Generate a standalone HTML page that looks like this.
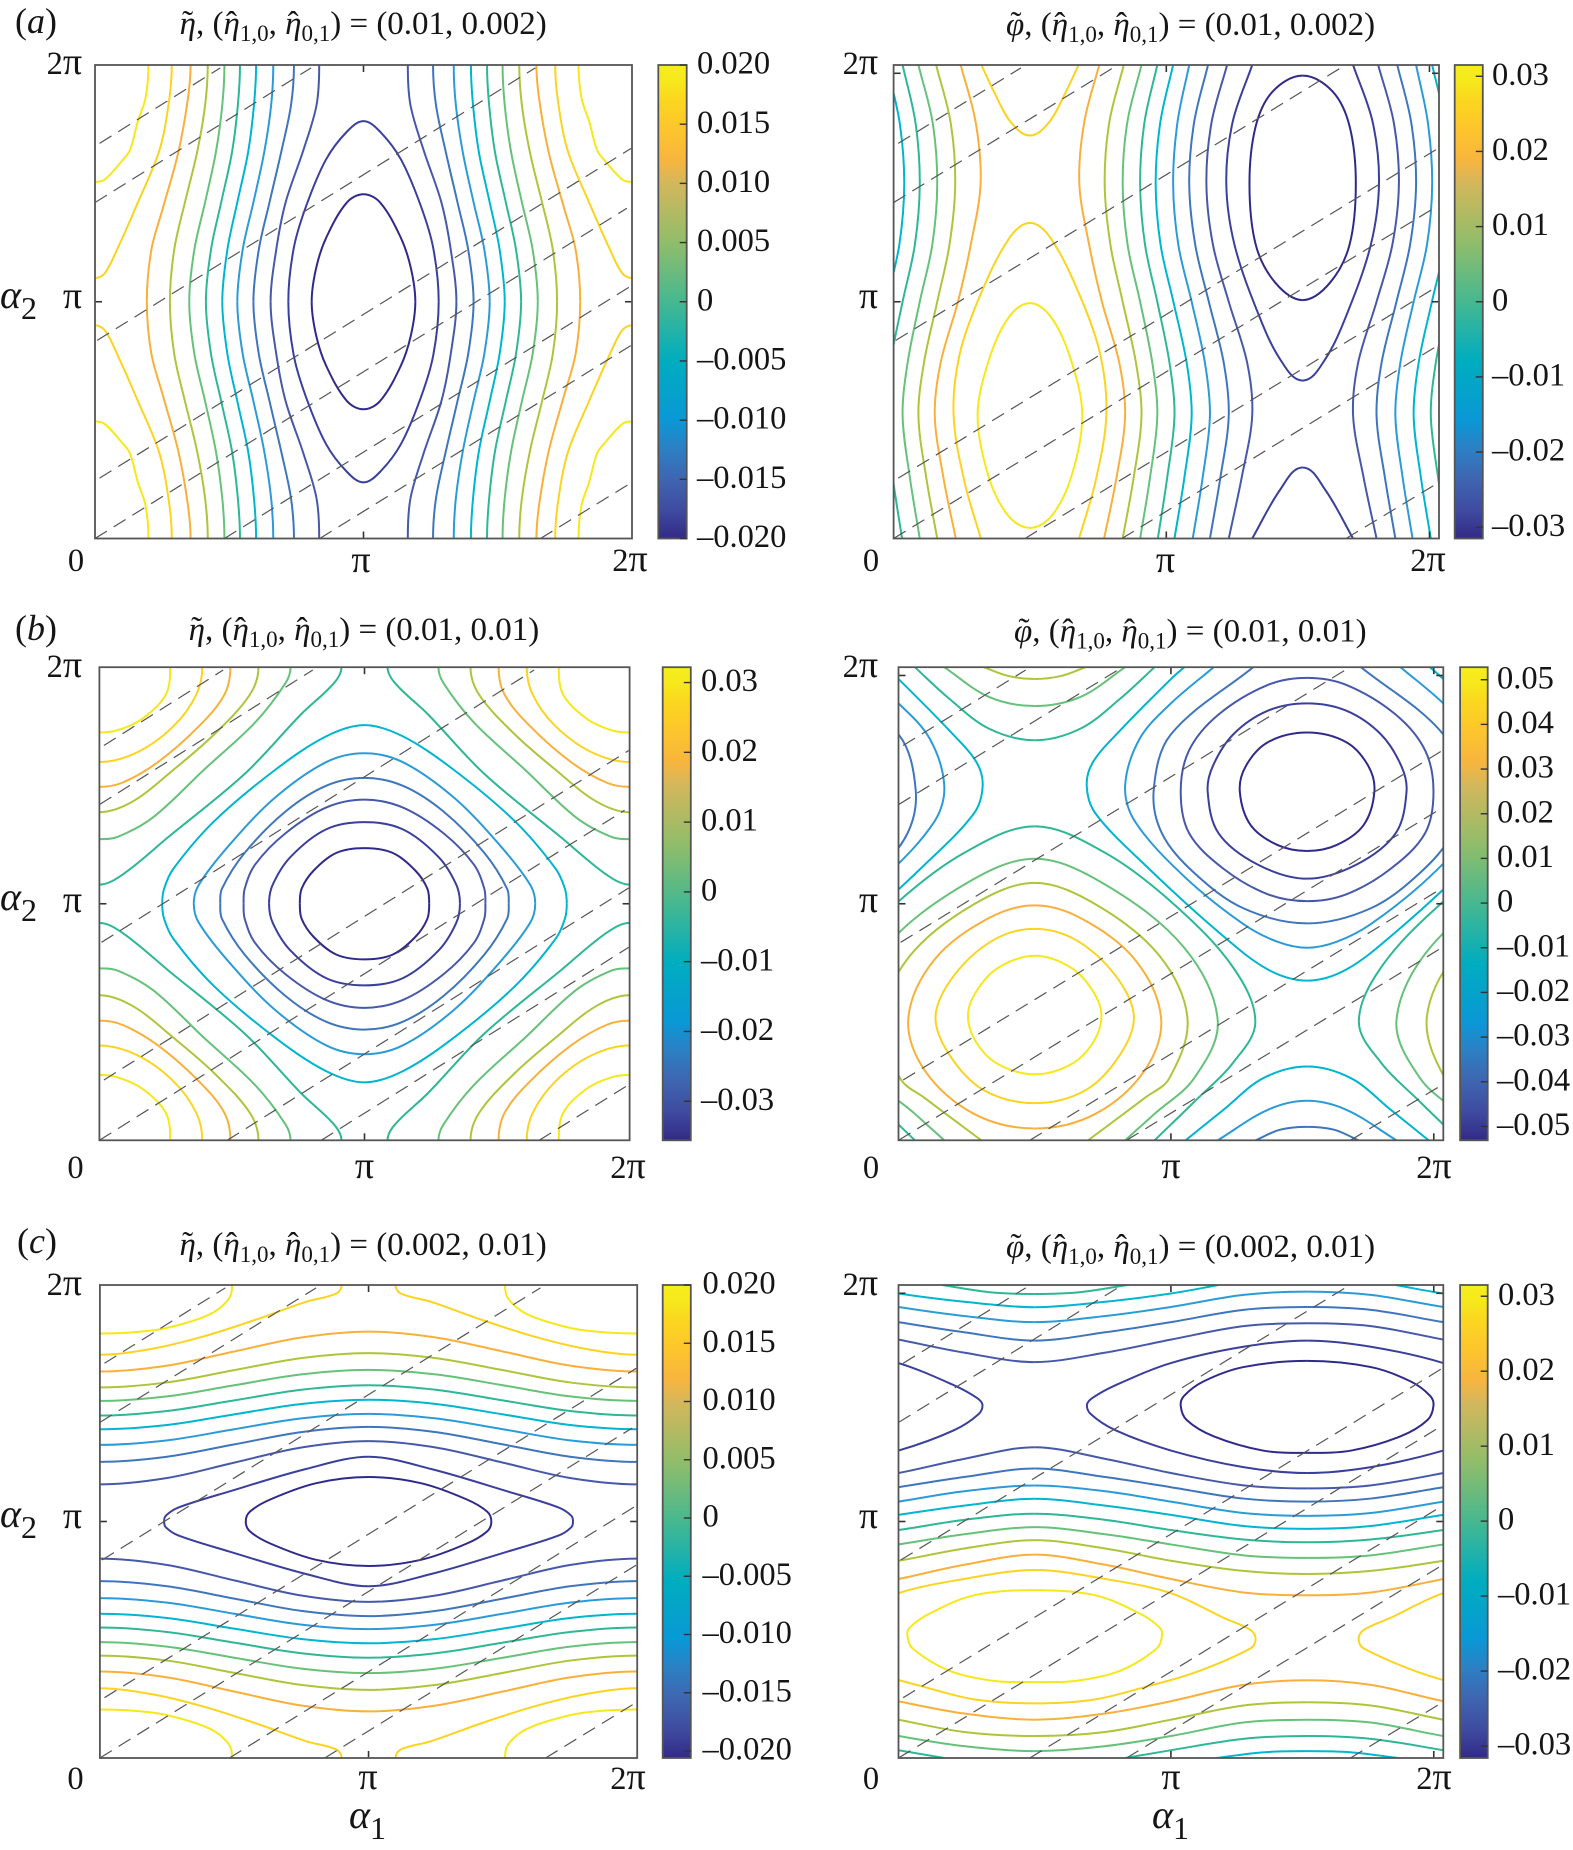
<!DOCTYPE html>
<html lang="en">
<head>
<meta charset="utf-8">
<title>Contour panels</title>
<style>
html,body{margin:0;padding:0;background:#fff}
svg{display:block}
text{font-family:"Liberation Serif","DejaVu Serif",serif;fill:#151515}
.tk{font-size:32.5px}
.pi{font-size:38px}
.mid{text-anchor:middle}
.end{text-anchor:end}
.ttl{font-size:33px}
.sub{font-size:23px}
.it{font-style:italic}
.let{font-size:36px}
.ax{font-size:40px;font-style:italic}
.axs{font-size:32px}
</style>
</head>
<body>
<svg id="fig" width="1573" height="1850" viewBox="0 0 1573 1850" xmlns="http://www.w3.org/2000/svg">
<defs>
<linearGradient id="parula" x1="0" y1="0" x2="0" y2="1"></linearGradient>
</defs>
<g id="panels"></g>

<text class="let" x="15" y="33">(<tspan class="it">a</tspan>)</text>
<text class="let" x="15" y="640">(<tspan class="it">b</tspan>)</text>
<text class="let" x="17" y="1253">(<tspan class="it">c</tspan>)</text>

<text class="ttl" x="179.6" y="34"><tspan class="it">η</tspan><tspan dx="-13.8" dy="-1">˜</tspan><tspan dx="2.8" dy="1">, (</tspan><tspan class="it">η</tspan><tspan dx="-13.8">ˆ</tspan><tspan class="sub" dx="2.8" dy="7">1,0</tspan><tspan dy="-7">, </tspan><tspan class="it">η</tspan><tspan dx="-13.8">ˆ</tspan><tspan class="sub" dx="2.8" dy="7">0,1</tspan><tspan dy="-7">) = (0.01, 0.002)</tspan></text>
<text class="ttl" x="1006" y="35"><tspan class="it">φ</tspan><tspan dx="-13.8" dy="-1">˜</tspan><tspan dx="2.8" dy="1">, (</tspan><tspan class="it">η</tspan><tspan dx="-13.8">ˆ</tspan><tspan class="sub" dx="2.8" dy="7">1,0</tspan><tspan dy="-7">, </tspan><tspan class="it">η</tspan><tspan dx="-13.8">ˆ</tspan><tspan class="sub" dx="2.8" dy="7">0,1</tspan><tspan dy="-7">) = (0.01, 0.002)</tspan></text>
<text class="ttl" x="188.6" y="640"><tspan class="it">η</tspan><tspan dx="-13.8" dy="-1">˜</tspan><tspan dx="2.8" dy="1">, (</tspan><tspan class="it">η</tspan><tspan dx="-13.8">ˆ</tspan><tspan class="sub" dx="2.8" dy="7">1,0</tspan><tspan dy="-7">, </tspan><tspan class="it">η</tspan><tspan dx="-13.8">ˆ</tspan><tspan class="sub" dx="2.8" dy="7">0,1</tspan><tspan dy="-7">) = (0.01, 0.01)</tspan></text>
<text class="ttl" x="1014" y="641.5"><tspan class="it">φ</tspan><tspan dx="-13.8" dy="-1">˜</tspan><tspan dx="2.8" dy="1">, (</tspan><tspan class="it">η</tspan><tspan dx="-13.8">ˆ</tspan><tspan class="sub" dx="2.8" dy="7">1,0</tspan><tspan dy="-7">, </tspan><tspan class="it">η</tspan><tspan dx="-13.8">ˆ</tspan><tspan class="sub" dx="2.8" dy="7">0,1</tspan><tspan dy="-7">) = (0.01, 0.01)</tspan></text>
<text class="ttl" x="179.5" y="1255"><tspan class="it">η</tspan><tspan dx="-13.8" dy="-1">˜</tspan><tspan dx="2.8" dy="1">, (</tspan><tspan class="it">η</tspan><tspan dx="-13.8">ˆ</tspan><tspan class="sub" dx="2.8" dy="7">1,0</tspan><tspan dy="-7">, </tspan><tspan class="it">η</tspan><tspan dx="-13.8">ˆ</tspan><tspan class="sub" dx="2.8" dy="7">0,1</tspan><tspan dy="-7">) = (0.002, 0.01)</tspan></text>
<text class="ttl" x="1006" y="1257"><tspan class="it">φ</tspan><tspan dx="-13.8" dy="-1">˜</tspan><tspan dx="2.8" dy="1">, (</tspan><tspan class="it">η</tspan><tspan dx="-13.8">ˆ</tspan><tspan class="sub" dx="2.8" dy="7">1,0</tspan><tspan dy="-7">, </tspan><tspan class="it">η</tspan><tspan dx="-13.8">ˆ</tspan><tspan class="sub" dx="2.8" dy="7">0,1</tspan><tspan dy="-7">) = (0.002, 0.01)</tspan></text>

<g>
<text class="tk end" x="82" y="74">2<tspan class="pi">π</tspan></text><text class="tk end pi" x="82" y="308">π</text>
<text class="tk mid" x="76" y="571">0</text><text class="tk mid pi" x="361" y="572">π</text><text class="tk mid" x="630" y="571">2<tspan class="pi">π</tspan></text>
</g>
<g>
<text class="tk end" x="878" y="74">2<tspan class="pi">π</tspan></text><text class="tk end pi" x="878" y="308">π</text>
<text class="tk mid" x="871" y="571">0</text><text class="tk mid pi" x="1165.5" y="572">π</text><text class="tk mid" x="1428" y="571">2<tspan class="pi">π</tspan></text>
</g>
<g>
<text class="tk end" x="82" y="677">2<tspan class="pi">π</tspan></text><text class="tk end pi" x="82" y="912">π</text>
<text class="tk mid" x="75.5" y="1178">0</text><text class="tk mid pi" x="364.5" y="1178">π</text><text class="tk mid" x="628" y="1178">2<tspan class="pi">π</tspan></text>
</g>
<g>
<text class="tk end" x="878" y="677">2<tspan class="pi">π</tspan></text><text class="tk end pi" x="878" y="912">π</text>
<text class="tk mid" x="871" y="1178">0</text><text class="tk mid pi" x="1171" y="1178">π</text><text class="tk mid" x="1434" y="1178">2<tspan class="pi">π</tspan></text>
</g>
<g>
<text class="tk end" x="82" y="1295">2<tspan class="pi">π</tspan></text><text class="tk end pi" x="82" y="1528">π</text>
<text class="tk mid" x="75.5" y="1789">0</text><text class="tk mid pi" x="368" y="1789">π</text><text class="tk mid" x="628" y="1789">2<tspan class="pi">π</tspan></text>
</g>
<g>
<text class="tk end" x="878" y="1295">2<tspan class="pi">π</tspan></text><text class="tk end pi" x="878" y="1528">π</text>
<text class="tk mid" x="871" y="1789">0</text><text class="tk mid pi" x="1171" y="1789">π</text><text class="tk mid" x="1434" y="1789">2<tspan class="pi">π</tspan></text>
</g>

<text x="0" y="308"><tspan class="ax">α</tspan><tspan class="axs" dy="11">2</tspan></text>
<text x="0" y="910"><tspan class="ax">α</tspan><tspan class="axs" dy="11">2</tspan></text>
<text x="0" y="1527"><tspan class="ax">α</tspan><tspan class="axs" dy="11">2</tspan></text>
<text x="349" y="1828"><tspan class="ax">α</tspan><tspan class="axs" dy="11">1</tspan></text>
<text x="1152" y="1828"><tspan class="ax">α</tspan><tspan class="axs" dy="11">1</tspan></text>
</svg>

<script>
// Contour levels and curve arcs. Coordinates are (alpha1/pi*100, alpha2/pi*100) pairs.
const aEtaLevels = [0.0175,0.0143,0.0111,0.008,0.0048,0.0016,-0.0016,-0.0048,-0.008,-0.0111,-0.0143,-0.0175];
const aEtaCurves = [
 [[19.9,200,18.8,186,15.9,176,13,164,10.2,159.7,3.6,151.6,0,150.6]],
 [[28.6,200,27.6,185,24,164,16,142,8.4,122.5,3.6,112,0,110]],
 [[35.6,200,34.5,185,31,163,25.4,140,21,122,19.3,100]],
 [[42,200,41,183,38,163,33.5,142,29.5,122,27.9,100]],
 [[48.2,200,47.4,183,45,163,41,142,37,122,35.1,100]],
 [[54,200,53.2,183,51,163,47,142,43.2,122,41.3,100]],
 [[60,200,59.2,183,57,163,53,142,49.3,122,47.4,100]],
 [[66.4,200,65.6,183,63,163,59,142,55,122,53,100]],
 [[74.1,200,73,183,69.5,164,65,142,61,122,59,100]],
 [[83.5,200,82.5,183,77.6,164,71,142,67.5,122,65.4,100]],
 [[100,176.3,93.8,171.8,86,160,78.6,140.3,74,122.5,72,100]],
 [[100,145.4,93.8,141.9,86.2,127.3,82.4,114.4,80.7,100]]
];

const aPhiLevels = [0.0285,0.0233,0.0181,0.013,0.0078,0.0026,-0.0026,-0.0078,-0.013,-0.0181,-0.0233,-0.0285];
const aPhiCurves = [
 [[50,99.4,57.8,93.4,65,75.6,69.2,51.9,65,25.5,57.8,9.4,50,4.5]],
 [[50,133.3,57.8,126.5,68.7,101.5,75.9,77.2,78,51.9,74,23.9,68,0],[50,170.2,57,175.8,63.2,188.7,67.8,200]],
 [[75.4,200,69.9,175.8,68.1,150,71.7,124.1,76.4,100,82.8,74,84.9,51.9,81.7,25.5,77.2,0]],
 [[84.4,200,79.1,175.8,77.4,150,79.5,124.1,84,100,88.9,74,90.9,51.9,88,25.5,84,0]],
 [[90.9,200,85.7,175.8,84,150,85.8,124.1,90.4,100,94.9,74,96.7,51.9,94,25.5,90.4,0]],
 [[96.7,200,92,175.8,90.4,150,92.2,124.1,96.7,100,101.2,74,103,51.9,100.3,25.5,96.9,0]],
 [[102.5,200,97.8,175.8,96.1,150,97.9,124.1,102.6,100,107.5,74,109.3,51.9,106.6,25.5,103,0]],
 [[108.4,200,104.1,175.8,102.5,150,104.4,124.1,109.3,100,114.2,74,116,51.9,113.3,25.5,109.7,0]],
 [[115.3,200,110.2,175.8,108.4,150,110.6,124.1,115.6,100,121.1,74,122.9,51.9,119.8,25.5,116,0]],
 [[122.3,200,116.6,175.8,114.7,150,117.1,124.1,122.9,100,129.7,74,131.5,51.9,127.6,25.5,122.9,0]],
 [[131.5,200,124.3,175.8,122,150,125,124.1,133.7,95,141.8,75.6,150,66.7],[150,30,141.8,20.7,131.5,0]],
 [[150,195.5,139,188.8,132.8,174.2,130.5,150,132.8,124.1,140,108,150,100.7]]
];

const bEtaLevels = [0.0285,0.0228,0.0171,0.0114,0.0057,0,-0.0057,-0.0114,-0.0171,-0.0228,-0.0285,-0.0342];
const bEtaCurves = [
 [[26.7,200,25,188.3,16.3,178.3,6.7,173.3,0,172.4]],
 [[38.8,200,36.5,188.3,27.9,175,14.4,164.1,0,159.9]],
 [[49.4,200,47.1,188.3,37.5,175,22.1,159.9,8.7,151.2,0,149.4]],
 [[60,200,56.7,188.3,43.3,171.6,27.9,156.6,12.5,143.2,0,138.7]],
 [[72.1,200,70.2,193.3,58.7,176.6,39.4,156.6,20.2,136.5,6.7,128.2,0,127.3]],
 [[91.3,200,88.5,193.3,76,180,54.8,154.9,26,128.2,8.7,112.3,0,108.1]],
 [[100,175.5,85.6,170.8,66.3,156.6,43.3,134.9,27.9,114.8,24.4,106.3,23.7,100]],
 [[100,163.6,85.6,159.9,66.3,144.9,49,124.8,37.5,108,35.6,100]],
 [[100,153.2,85.6,149.9,70.2,139,54.8,121.5,46.2,106.3,45.6,100]],
 [[100,144,85.6,140.7,70.2,129.8,58.7,116.5,54.8,106.3,54.4,100]],
 [[100,134.5,85.6,131.5,72.1,119.8,65.4,108.1,64,100]],
 [[100,123.5,89.4,121.5,80.8,114,76.3,106.4,75.6,100]]
];

const bPhiLevels = [0.0475,0.0389,0.0302,0.0216,0.013,0.0043,-0.0043,-0.013,-0.0216,-0.0302,-0.0389,-0.0475];
const bPhiCurves = [
 [[50,78,63.3,73,71.4,63,74.5,52.6,71.4,41.3,63.3,32.1,50,27.9]],
 [[50,89.4,65.1,84.7,79.6,69.7,86.4,52.6,81.4,36.3,68.7,21.2,50,15.7]],
 [[50,99.3,66.9,93.9,86.8,76.4,96.4,51.6,90.4,29.6,72.3,11.2,50,5]],
 [[50,108.8,72.3,99.8,95.8,78,106.1,51.3,99.4,26.2,90.4,17.9,69.6,0],[50,195,59.7,196.3,68.7,200]],
 [[50,119,75.9,108.1,104.9,81.4,117.2,50.5,108.5,26.2,94,11.2,83.2,0],[50,183.6,66.9,187.5,83.2,200]],
 [[50,132.7,75.9,121.5,101.2,99.7,122.9,73,131,50,122.9,32.9,108.5,16.2,94,0],[50,169.1,66.9,174.1,81.4,186.7,94,200]],
 [[104.9,200,100,195,81.4,173.3,71.4,159.9,69.1,149.9,72.3,138.2,90.4,116.5,117.5,88,135.6,72.2,150,67.5],[150,31.2,133.8,26.2,119.3,12.9,105.4,0]],
 [[115.7,200,100,184.7,88.6,169.9,83.2,149.9,86.8,134.8,104.9,111.5,126.6,91.4,139.2,83.9,150,81.4],[150,16.7,135.6,12.9,117.2,0]],
 [[130.2,200,100,171.6,93.7,148.2,96.7,129.8,108.5,113.1,126.6,98.1,150,91.7],[150,5.7,140.1,4.5,131.1,0]],
 [[150,195.5,135.6,192.5,117.5,180,106.7,164.9,103.6,147.4,106.7,129.8,119.3,114.8,135.6,104,150,101.1]],
 [[150,184.7,135.6,181.6,122.9,171.6,115.4,158.2,113.5,147.4,117.5,129.8,132,116.5,150,110.6]],
 [[150,172.4,135.6,168.3,127.5,158.2,125.3,147.4,129.3,133.2,139.2,124.8,150,122.3]]
];

const cEtaLevels = [0.0175,0.0143,0.0111,0.008,0.0048,0.0016,-0.0016,-0.0048,-0.008,-0.0111,-0.0143,-0.0175];
const cEtaCurves = [
 [[0,179.5,19.7,180.8,33,184.3,42.5,188.6,48.2,194.6,49.2,200]],
 [[0,170.5,19.7,173.1,38.7,178.3,57.7,185.2,76.7,192.9,88,196.4,90,200]],
 [[0,163.4,25,165.9,50,171.9,75,177.8,100,180.3]],
 [[0,156.7,25,158.8,50,164,75,169.1,100,171.2]],
 [[0,151,25,152.9,50,157.6,75,162.2,100,164.1]],
 [[0,144.8,25,146.7,50,151.2,75,155.7,100,157.6]],
 [[0,139,25,140.8,50,145.3,75,149.7,100,151.5]],
 [[0,132.4,25,134.3,50,139,75,143.6,100,145.5]],
 [[0,125.2,25,127.4,50,132.6,75,137.8,100,140]],
 [[0,115.7,25,118.4,50,124.9,75,131.3,100,134]],
 [[100,127.4,76.7,122.2,48.2,112.7,29.2,105.9,24.5,102.4,23.9,100]],
 [[100,118.8,80.5,116.2,63.4,109.3,55.8,104.1,54.3,100]]
];

const cPhiLevels = [0.0285,0.0233,0.0181,0.013,0.0078,0.0026,-0.0026,-0.0078,-0.013,-0.0181,-0.0233,-0.0285];
const cPhiCurves = [
 [[50,71,72.3,68.8,88.7,61,96,55,96.7,51.5,94.9,46.4,81.4,36.9,65.1,32.6,50,32.1]],
 [[50,79.5,75.9,75.7,100,69.7,119.3,59.3,129.3,54.1,131.1,50.3,129.3,46.4,108.5,36,90.4,30,72.3,24.8,50,23.1]],
 [[50,86,75.9,81.7,100,75.7,126.6,70,150,68.8],[50,16.2,75.9,18.8,100,24,126.6,30.9,150,32.9]],
 [[50,92.1,75.9,88.6,100,83.4,126.6,79.1,150,77.8],[50,9.3,75.9,11,100,16.2,126.6,22.2,150,23.6]],
 [[50,97.6,75.9,94.6,100,90.3,126.6,85.7,150,84.6],[50,2.9,75.9,5,100,9.3,126.6,15,150,16.2]],
 [[50,103.3,75.9,100.7,100,96.4,126.6,92.4,150,91.2],[83.2,0,100,3.3,126.6,8.1,150,9.3],[50,196.2,66.9,197,84,200]],
 [[50,109.6,75.9,106.7,100,102.8,126.6,98.1,150,96.9],[116.6,0,133.7,2.4,150,2.9],[50,190.6,75.9,192.9,100,196.4,117.5,200]],
 [[50,115.2,75.9,112.8,100,108.4,126.6,103.6,150,102.4],[50,184.3,76,186.9,100,190.7,126.6,195.8,150,197.2]],
 [[50,122.4,75.9,118.8,100,114.5,126.6,109.7,150,108.4],[50,176.5,75.9,180,100,184.3,126.6,189.5,150,190.7]],
 [[50,131.4,75.9,126.5,100,120.5,126.6,115.3,150,114],[50,167.4,75.9,171.4,100,176.9,126.6,182.6,150,183.8]],
 [[150,176.5,126.6,173.9,100,167,79.6,157.6,71.4,152.4,69.2,149.5,70.5,145.5,79.6,138.6,100,130,126.6,123,150,120.5]],
 [[150,167.9,126.6,165.3,112.1,159.3,104.9,153.2,103.6,149,105.8,142.9,115.7,136,133.8,130,150,129]]
];

// Dashed straight lines shared by all panels (same alpha units).
const dashStartU = [1.7,0,0.8,1.7,0,48.2,83.7,165.9];
const dashStartV = [166.9,141.9,83.7,25.5,0,0,0,0];
const dashEndU = [46.7,80.5,164,199.7,198.1,199.7,199.7,199.1];
const dashEndV = [198.8,198.8,198.8,164.8,139.5,106.7,81.6,23.1];

// Colorbar ticks and printed labels.
const aEtaBarTicks = [0.02,0.015,0.01,0.005,0,-0.005,-0.01,-0.015,-0.02];
const aEtaBarLabels = ["0.020","0.015","0.010","0.005","0","–0.005","–0.010","–0.015","–0.020"];
const aPhiBarTicks = [0.03,0.02,0.01,0,-0.01,-0.02,-0.03];
const aPhiBarLabels = ["0.03","0.02","0.01","0","–0.01","–0.02","–0.03"];
const bEtaBarTicks = [0.03,0.02,0.01,0,-0.01,-0.02,-0.03];
const bEtaBarLabels = ["0.03","0.02","0.01","0","–0.01","–0.02","–0.03"];
const bPhiBarTicks = [0.05,0.04,0.03,0.02,0.01,0,-0.01,-0.02,-0.03,-0.04,-0.05];
const bPhiBarLabels = ["0.05","0.04","0.03","0.02","0.01","0","–0.01","–0.02","–0.03","–0.04","–0.05"];
const cEtaBarTicks = [0.02,0.015,0.01,0.005,0,-0.005,-0.01,-0.015,-0.02];
const cEtaBarLabels = ["0.020","0.015","0.010","0.005","0","–0.005","–0.010","–0.015","–0.020"];
const cPhiBarTicks = [0.03,0.02,0.01,0,-0.01,-0.02,-0.03];
const cPhiBarLabels = ["0.03","0.02","0.01","0","–0.01","–0.02","–0.03"];

const SVGNS = "http://www.w3.org/2000/svg";
const lineColors = ["#f6e81a","#fbd420","#f9b03a","#aec43a","#66c17a","#2eb795","#00b5cf","#2b9bd8","#3f75bc","#4658aa","#3a3f9c","#2f2a8a"];
const barOffsets = [0,0.035,0.07,0.125,0.2,0.25,0.375,0.5,0.625,0.75,0.81,0.875,0.94,1];
const barColors = ["#f6ee1c","#f6e81c","#fbd81f","#fdc82a","#f8b53e","#d3b75c","#90bd6a","#46b890","#00adbf","#0a98d6","#2c80c4","#3f65b0","#3f4ba0","#322a86"];

const grad = document.getElementById("parula");
barOffsets.forEach(function(o,i){
  const s = document.createElementNS(SVGNS,"stop");
  s.setAttribute("offset",o);
  s.setAttribute("stop-color",barColors[i]);
  grad.appendChild(s);
});

function hexRgb(h){return [parseInt(h.substr(1,2),16),parseInt(h.substr(3,2),16),parseInt(h.substr(5,2),16)];}
function levelColor(level,levels){
  const hi = Math.max.apply(null,levels), lo = Math.min.apply(null,levels);
  const p = (hi-level)/(hi-lo)*(lineColors.length-1);
  const i = Math.max(0,Math.min(lineColors.length-2,Math.floor(p)));
  const f = Math.max(0,Math.min(1,p-i));
  const a = hexRgb(lineColors[i]), b = hexRgb(lineColors[i+1]);
  return "rgb("+[0,1,2].map(function(k){return Math.round(a[k]+(b[k]-a[k])*f);}).join(",")+")";
}
function make(parent,tag,attrs){
  const el = document.createElementNS(SVGNS,tag);
  for(const k in attrs){el.setAttribute(k,attrs[k]);}
  parent.appendChild(el);
  return el;
}
function unitDir(a,b){
  const dx=b[0]-a[0],dy=b[1]-a[1],l=Math.hypot(dx,dy)||1;
  return [dx/l,dy/l];
}
function splinePath(pts){
  let d = "M"+pts[1][0].toFixed(2)+" "+pts[1][1].toFixed(2);
  for(let i=1;i<pts.length-2;i++){
    const p0=pts[i-1],p1=pts[i],p2=pts[i+1],p3=pts[i+2];
    const len=Math.hypot(p2[0]-p1[0],p2[1]-p1[1])/3;
    const t1=unitDir(p0,p2),t2=unitDir(p1,p3);
    d += "C"+(p1[0]+t1[0]*len).toFixed(2)+" "+(p1[1]+t1[1]*len).toFixed(2)+" "+
         (p2[0]-t2[0]*len).toFixed(2)+" "+(p2[1]-t2[1]*len).toFixed(2)+" "+
         p2[0].toFixed(2)+" "+p2[1].toFixed(2);
  }
  return d;
}
function phantom(end,next,uMirrors,vMirrors){
  for(const a of uMirrors){ if(Math.abs(end[0]-a)<1e-6) return [2*a-next[0],next[1]]; }
  for(const a of vMirrors){ if(Math.abs(end[1]-a)<1e-6) return [next[0],2*a-next[1]]; }
  return [end[0],end[1]];
}
function drawPanel(c){
  const root = document.getElementById("panels");
  const g = make(root,"g",{});
  
  
  const sx = function(u){return c.x0+(c.x1-c.x0)*u/200;};
  const sy = function(v){return c.y1-(c.y1-c.y0)*v/200;};
  const defs = make(g,"clipPath",{id:"clip-"+c.id});
  make(defs,"rect",{x:c.x0,y:c.y0,width:c.x1-c.x0,height:c.y1-c.y0});
  const plot = make(g,"g",{"clip-path":"url(#clip-"+c.id+")"});
  
  

  c.curves.forEach(function(arcs,li){
    const colour = levelColor(c.levels[li],c.levels);
    arcs.forEach(function(flat){
      const raw=[];
      for(let i=0;i<flat.length;i+=2){raw.push([flat[i],flat[i+1]]);}
      const n=raw.length;
      const full=[phantom(raw[0],raw[1],c.tanU,c.tanV)].concat(raw,[phantom(raw[n-1],raw[n-2],c.tanU,c.tanV)]);
      const uModes=[null].concat(c.mirrorU);
      const vModes=[null].concat(c.mirrorV);
      uModes.forEach(function(ma){
        vModes.forEach(function(mb){
          const pts=full.map(function(p){
            const u = ma===null?p[0]:2*ma-p[0];
            const v = mb===null?p[1]:2*mb-p[1];
            return [sx(u),sy(v)];
          });
          const path = make(plot,"path",{d:splinePath(pts),fill:"none",stroke:colour,"stroke-width":2,"stroke-linejoin":"round"});
          
          
        });
      });
    });
  });

  dashStartU.forEach(function(u,i){
    const line = make(plot,"line",{x1:sx(u),y1:sy(dashStartV[i]),x2:sx(dashEndU[i]),y2:sy(dashEndV[i]),stroke:"#555","stroke-width":1.2,"stroke-dasharray":"14 8"});
    
    
  });

  c.frameTicks.forEach(function(t){
    [[sx(t),c.y0,sx(t),c.y0+7],[sx(t),c.y1,sx(t),c.y1-7],[c.x0,sy(t),c.x0+7,sy(t)],[c.x1,sy(t),c.x1-7,sy(t)]].forEach(function(q){
      const tick = make(g,"line",{x1:q[0],y1:q[1],x2:q[2],y2:q[3],stroke:"#333","stroke-width":1.6});
      
      
    });
  });
  const frame = make(g,"rect",{x:c.x0,y:c.y0,width:c.x1-c.x0,height:c.y1-c.y0,fill:"none",stroke:"#555","stroke-width":1.8});
  
  

  const bar = make(g,"rect",{x:c.bx0,y:c.y0,width:c.bx1-c.bx0,height:c.y1-c.y0,fill:"url(#parula)",stroke:"#555","stroke-width":1.8});
  
  
  const by = function(val){return c.y0+(c.y1-c.y0)*(c.bmax-val)/(c.bmax-c.bmin);};
  c.barTicks.forEach(function(val,i){
    const ty = by(val);
    const tk = make(g,"line",{x1:c.bx1-7,y1:ty,x2:c.bx1,y2:ty,stroke:"#333","stroke-width":1.4});
    
    
    const lb = make(g,"text",{x:c.lx,y:ty+8.6,"class":"tk"});
    lb.textContent = c.barLabels[i];
    
    
  });
}

const etaMirror = {mirrorU:[100],mirrorV:[100],tanU:[0,100,200],tanV:[0,100,200],frameTicks:[100]};
const phiMirror = {mirrorU:[50,150],mirrorV:[],tanU:[50,150],tanV:[],frameTicks:[100,196.5]};

drawPanel(Object.assign({id:"eta-a",x0:95,x1:632,y0:65,y1:538.5,bx0:658.3,bx1:686.7,lx:697,bmax:0.02,bmin:-0.02,levels:aEtaLevels,curves:aEtaCurves,barTicks:aEtaBarTicks,barLabels:aEtaBarLabels},etaMirror));
drawPanel(Object.assign({id:"phi-a",x0:893.6,x1:1439,y0:65,y1:538.5,bx0:1454.7,bx1:1482.8,lx:1492,bmax:0.0315,bmin:-0.0315,levels:aPhiLevels,curves:aPhiCurves,barTicks:aPhiBarTicks,barLabels:aPhiBarLabels},phiMirror));
drawPanel(Object.assign({id:"eta-b",x0:99.4,x1:629.6,y0:667.2,y1:1140.3,bx0:662.7,bx1:690.8,lx:701,bmax:0.0322,bmin:-0.0356,levels:bEtaLevels,curves:bEtaCurves,barTicks:bEtaBarTicks,barLabels:bEtaBarLabels},etaMirror));
drawPanel(Object.assign({id:"phi-b",x0:898.5,x1:1443.3,y0:667.2,y1:1140.3,bx0:1460.1,bx1:1487.7,lx:1497,bmax:0.0528,bmin:-0.0531,levels:bPhiLevels,curves:bPhiCurves,barTicks:bPhiBarTicks,barLabels:bPhiBarLabels},phiMirror));
drawPanel(Object.assign({id:"eta-c",x0:99.9,x1:637.2,y0:1285,y1:1758,bx0:662.7,bx1:690.8,lx:702.5,bmax:0.02,bmin:-0.0206,levels:cEtaLevels,curves:cEtaCurves,barTicks:cEtaBarTicks,barLabels:cEtaBarLabels},etaMirror));
drawPanel(Object.assign({id:"phi-c",x0:898.5,x1:1443.3,y0:1285,y1:1758,bx0:1460.1,bx1:1487.7,lx:1498,bmax:0.0315,bmin:-0.0316,levels:cPhiLevels,curves:cPhiCurves,barTicks:cPhiBarTicks,barLabels:cPhiBarLabels},phiMirror));
</script>
</body>
</html>
